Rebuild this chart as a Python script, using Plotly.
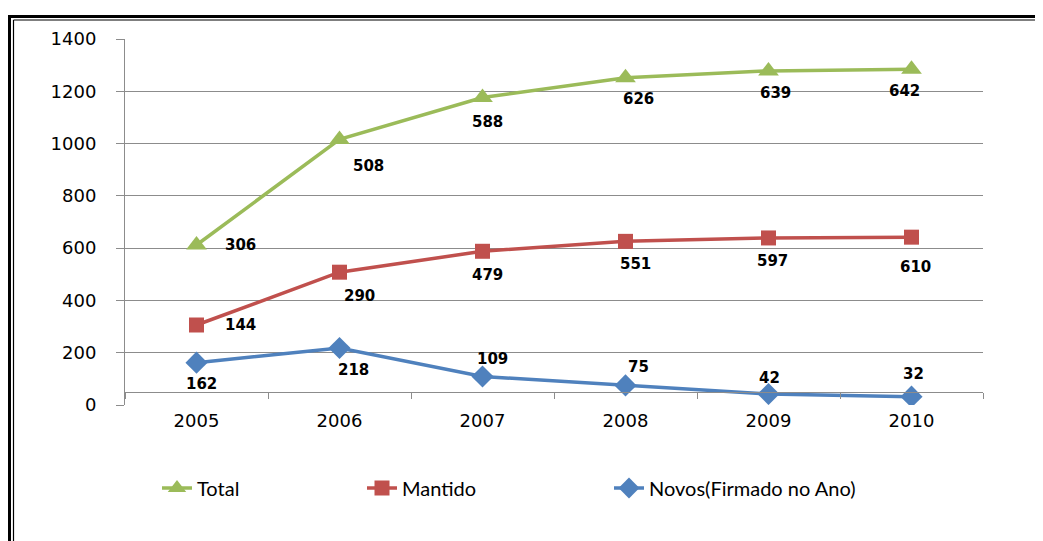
import plotly.graph_objects as go

# ---- data ----
years = ["2005", "2006", "2007", "2008", "2009", "2010"]
total_values = [612, 1016, 1176, 1252, 1278, 1284]
total_labels = ["306", "508", "588", "626", "639", "642"]
mantido_values = [306, 508, 588, 626, 639, 642]
mantido_labels = ["144", "290", "479", "551", "597", "610"]
novos_values = [162, 218, 109, 75, 42, 32]
novos_labels = ["162", "218", "109", "75", "42", "32"]
y_ticks = [0, 200, 400, 600, 800, 1000, 1200, 1400]

# ---- label offsets (px; x right, y up) ----
total_shift = [(44, 0), (29, -27), (5, -24), (13, -21), (7, -22), (-7, -22)]
mantido_shift = [(44, 0), (20, -24), (5, -24), (10, -23), (4, -23), (4, -30)]
novos_shift = [(5, -21), (14, -22), (10, 18), (13, 18), (1, 16), (2, 23)]

GREEN = "#9BBB59"
RED = "#C0504D"
BLUE = "#4F81BD"
GRID = "#8C8C8C"

# page body has an 8px margin, so work in figure coords = page coords - 8
OFF = 8
W, H = 1043 - OFF, 541 - OFF
PLOT_L, PLOT_R, PLOT_T, PLOT_B = 125 - OFF, 983 - OFF, 39 - OFF, 405 - OFF
L, R, T, B = PLOT_L, W - PLOT_R, PLOT_T, H - PLOT_B
PW, PH = PLOT_R - PLOT_L, PLOT_B - PLOT_T


def px_x(p):
    return (p - OFF - PLOT_L) / PW


def px_y(p):
    return (PLOT_B - (p - OFF)) / PH


fig = go.Figure()
series = [
    ("Total", total_values, total_labels, total_shift, GREEN, "triangle-up", 18, "legend", 157),
    ("Mantido", mantido_values, mantido_labels, mantido_shift, RED, "square", 15, "legend2", 362),
    ("Novos(Firmado no Ano)", novos_values, novos_labels, novos_shift, BLUE, "diamond", 17, "legend3", 609),
]
annotations = []
legend_layouts = {}
for name, vals, labs, shifts, col, sym, msize, leg, legx in series:
    fig.add_trace(go.Scatter(
        x=years, y=vals, name=name, mode="lines+markers",
        line=dict(color=col, width=3.5),
        marker=dict(symbol=sym, size=msize, color=col),
        hoverinfo="x+y", legend=leg,
    ))
    legend_layouts[leg] = dict(
        orientation="h", x=px_x(legx), xanchor="left", y=px_y(488), yanchor="middle",
        font=dict(family="Lato", size=20, color="#000000"),
        bgcolor="rgba(0,0,0,0)", itemclick=False, itemdoubleclick=False,
    )
    for i, (yv, lab, (dx, dy)) in enumerate(zip(vals, labs, shifts)):
        annotations.append(dict(
            x=i, y=yv, xref="x", yref="y", text=lab, showarrow=False,
            xshift=dx, yshift=dy,
            font=dict(family="DejaVu Sans", size=15, color="#000000", weight="bold"),
        ))

shapes = [
    dict(type="line", xref="paper", yref="paper", x0=px_x(9.5), x1=px_x(9.5), y0=px_y(15), y1=px_y(560),
         line=dict(color="#000000", width=3)),
    dict(type="line", xref="paper", yref="paper", x0=px_x(8), x1=px_x(1060), y0=px_y(16.5), y1=px_y(16.5),
         line=dict(color="#000000", width=3)),
    dict(type="line", xref="paper", yref="paper", x0=px_x(13.5), x1=px_x(13.5), y0=px_y(20), y1=px_y(560),
         line=dict(color="#000000", width=1.2)),
    dict(type="line", xref="paper", yref="paper", x0=px_x(13.5), x1=px_x(1060), y0=px_y(20), y1=px_y(20),
         line=dict(color="#000000", width=1.2)),
]

fig.update_layout(
    width=W, height=H, autosize=False,
    margin=dict(l=L, r=R, t=T, b=B, pad=0),
    paper_bgcolor="#FFFFFF", plot_bgcolor="#FFFFFF",
    showlegend=True,
    xaxis=dict(
        type="category", range=[-0.5, 5.5],
        anchor="free", position=px_y(392),
        showline=True, linecolor=GRID, linewidth=1,
        ticks="outside", tickson="boundaries", ticklen=6, tickcolor=GRID,
        showgrid=False, zeroline=False,
        tickfont=dict(family="DejaVu Sans", size=18, color="#000000"),
        ticklabelstandoff=12,
    ),
    yaxis=dict(
        range=[0, 1400], tickvals=y_ticks, ticktext=[str(v) for v in y_ticks],
        showline=True, linecolor=GRID, linewidth=1,
        ticks="outside", ticklen=8, tickcolor=GRID,
        showgrid=True, gridcolor=GRID, gridwidth=1, zeroline=False,
        tickfont=dict(family="DejaVu Sans", size=18, color="#000000"),
        ticklabelstandoff=16,
    ),
    annotations=annotations,
    shapes=shapes,
    **legend_layouts,
)

fig.write_html("out.html")
